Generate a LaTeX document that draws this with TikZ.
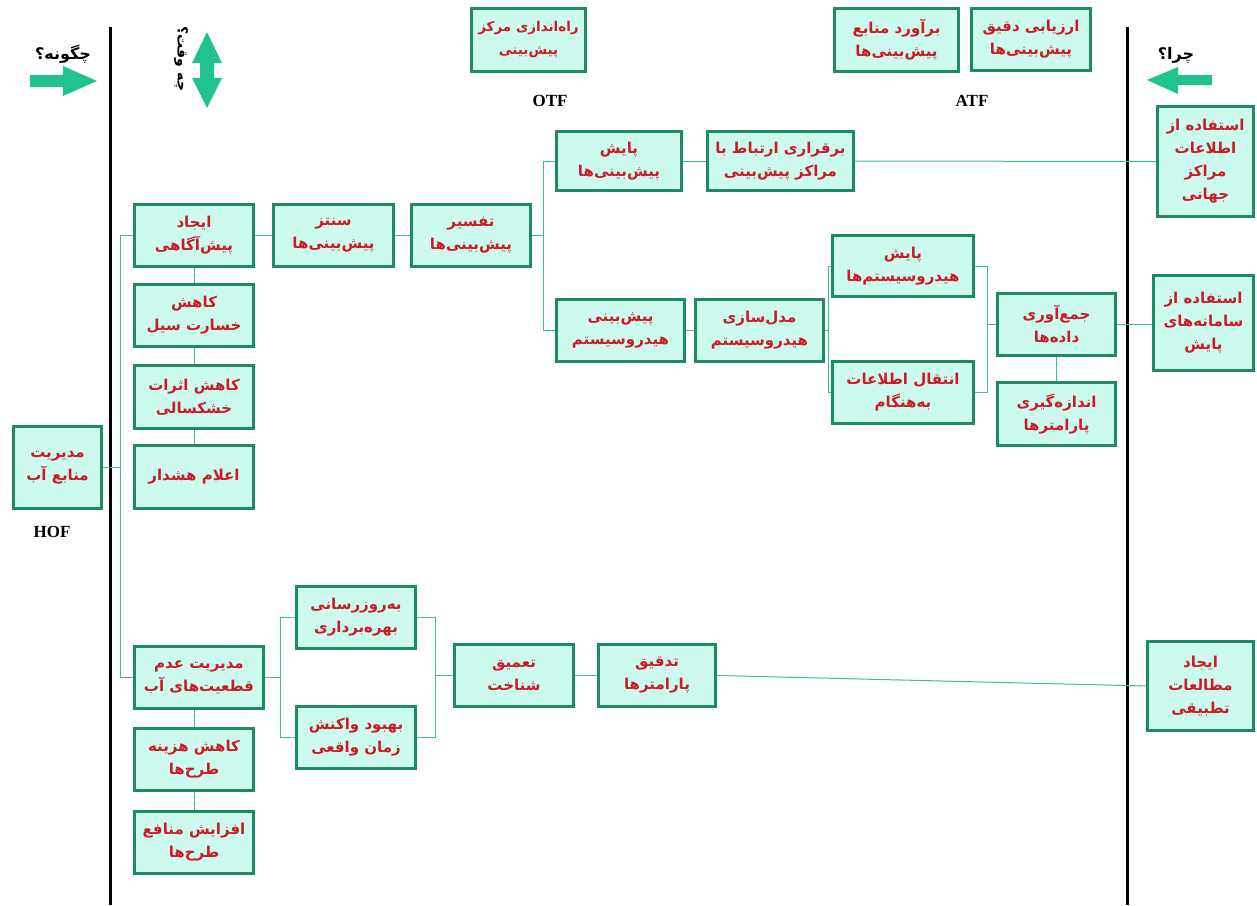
\documentclass[tikz,border=0pt]{standalone}
\usepackage{fontspec}
\TeXXeTstate=1
\setmainfont{Liberation Serif}
\newfontfamily\arabicfont[Script=Arabic]{DejaVu Sans}
\usetikzlibrary{calc}
\definecolor{bfill}{HTML}{CCFAEE}
\definecolor{bdraw}{HTML}{1E8A68}
\definecolor{tred}{HTML}{CC1A28}
\definecolor{lnk}{HTML}{3DBE98}
\definecolor{arr}{HTML}{22C290}
\newcommand{\fa}[1]{\beginR #1\endR}
\newcommand{\bx}[6]{\node[box, minimum width={#4pt-#2pt-2.6pt}, minimum height={#5pt-#3pt-2.6pt}] (#1) at ({(#2+#4)/2},{(#3+#5)/2}) {#6};}
\begin{document}
\begin{tikzpicture}[x=1pt,y=-1pt,
  box/.style={draw=bdraw, fill=bfill, line width=2.6pt, align=center, text=tred, inner sep=0.5pt,
    font=\arabicfont\bfseries\fontsize{15}{23}\selectfont},
  small/.style={font=\arabicfont\bfseries\fontsize{13.5}{23}\selectfont},
  conn/.style={draw=lnk, line width=1pt},
  lat/.style={font=\bfseries\fontsize{17}{20}\selectfont},
  qlab/.style={font=\arabicfont\bfseries\fontsize{16}{18}\selectfont}]
\useasboundingbox (0,0) rectangle (1257,905);
\fill[white] (0,0) rectangle (1257,905);
% black boundaries
\draw[line width=3pt] (110,27) -- (110,905);
\draw[line width=3pt] (1127,27) -- (1127,905);
% arrows
\fill[arr] (30,75) -- (63,75) -- (63,66) -- (97,81) -- (63,96) -- (63,87) -- (30,87) -- cycle;
\fill[arr] (207,32) -- (222,63) -- (214,63) -- (214,78) -- (222,78) -- (207,108) -- (192,78) -- (200,78) -- (200,63) -- (192,63) -- cycle;
\fill[arr] (1147,80) -- (1178,67) -- (1178,75) -- (1212,75) -- (1212,85) -- (1178,85) -- (1178,94) -- cycle;
% question labels
\node[qlab] (how) at (63,54) {\fa{چگونه؟}};
\node[qlab, font=\arabicfont\bfseries\fontsize{14}{16}\selectfont, rotate=-90] (when) at (181,59) {\fa{چه وقت؟}};
\node[qlab] (why) at (1176,55) {\fa{چرا؟}};
% latin labels
\node[lat] (otf) at (550,101) {OTF};
\node[lat] (atf) at (972,101) {ATF};
\node[lat] (hof) at (52,532) {HOF};
% boxes
\node[box, small, minimum width=114.4pt, minimum height=63.4pt] (rahandazi) at (528.5,40) {\fa{راه‌اندازی مرکز}\\\fa{پیش‌بینی}};
\bx{baravord}{833}{7}{960}{73}{\fa{برآورد منابع}\\\fa{پیش‌بینی‌ها}}
\bx{arzyabi}{970}{7}{1092}{72}{\fa{ارزیابی دقیق}\\\fa{پیش‌بینی‌ها}}
\bx{jahani}{1156}{105}{1255}{218}{\fa{استفاده از}\\\fa{اطلاعات}\\\fa{مراکز}\\\fa{جهانی}}
\bx{barqarari}{706}{130}{855}{192}{\fa{برقراری ارتباط با}\\\fa{مراکز پیش‌بینی}}
\bx{payesh}{555}{130}{683}{192}{\fa{پایش}\\\fa{پیش‌بینی‌ها}}
\bx{ijad}{133}{203}{255}{268}{\fa{ایجاد}\\\fa{پیش‌آگاهی}}
\bx{sentez}{272}{203}{395}{268}{\fa{سنتز}\\\fa{پیش‌بینی‌ها}}
\bx{tafsir}{410}{203}{532}{268}{\fa{تفسیر}\\\fa{پیش‌بینی‌ها}}
\bx{khesarat}{133}{283}{255}{348}{\fa{کاهش}\\\fa{خسارت سیل}}
\bx{khoshk}{133}{364}{255}{430}{\fa{کاهش اثرات}\\\fa{خشکسالی}}
\bx{hoshdar}{133}{444}{255}{510}{\fa{اعلام هشدار}}
\bx{modir}{12}{425}{103}{510}{\fa{مدیریت}\\\fa{منابع آب}}
\bx{pishhyd}{555}{298}{686}{363}{\fa{پیش‌بینی}\\\fa{هیدروسیستم}}
\bx{model}{694}{298}{825}{363}{\fa{مدل‌سازی}\\\fa{هیدروسیستم}}
\bx{payeshh}{831}{234}{975}{298}{\fa{پایش}\\\fa{هیدروسیستم‌ها}}
\bx{enteqal}{831}{360}{975}{425}{\fa{انتقال اطلاعات}\\\fa{به‌هنگام}}
\bx{jam}{996}{292}{1117}{357}{\fa{جمع‌آوری}\\\fa{داده‌ها}}
\bx{andaze}{996}{381}{1117}{447}{\fa{اندازه‌گیری}\\\fa{پارامترها}}
\bx{samane}{1152}{274}{1255}{372}{\fa{استفاده از}\\\fa{سامانه‌های}\\\fa{پایش}}
\bx{adam}{133}{645}{265}{710}{\fa{مدیریت عدم}\\\fa{قطعیت‌های آب}}
\bx{beruz}{295}{585}{417}{650}{\fa{به‌روزرسانی}\\\fa{بهره‌برداری}}
\bx{behbud}{295}{705}{417}{770}{\fa{بهبود واکنش}\\\fa{زمان واقعی}}
\bx{taamiq}{453}{643}{575}{708}{\fa{تعمیق}\\\fa{شناخت}}
\bx{tadqiq}{597}{643}{717}{708}{\fa{تدقیق}\\\fa{پارامترها}}
\bx{tatbiqi}{1146}{640}{1255}{732}{\fa{ایجاد}\\\fa{مطالعات}\\\fa{تطبیقی}}
\bx{hazine}{133}{727}{255}{792}{\fa{کاهش هزینه}\\\fa{طرح‌ها}}
\bx{manafe}{133}{810}{255}{875}{\fa{افزایش منافع}\\\fa{طرح‌ها}}
% bracket coordinates
\coordinate (trunk) at (120,0);
\coordinate (b1) at (543,0);
\coordinate (b2) at (828,0);
\coordinate (b3) at (987,0);
\coordinate (b4) at (280,0);
\coordinate (b5) at (435,0);
% connectors
\draw[conn] (ijad.west) -- (ijad.west -| trunk) |- (adam.west);
\draw[conn] (modir.east) -- (modir.east -| trunk);
\draw[conn] (ijad.east) -- (sentez.west);
\draw[conn] (sentez.east) -- (tafsir.west);
\draw[conn] (ijad.south) -- (khesarat.north);
\draw[conn] (khesarat.south) -- (khoshk.north);
\draw[conn] (khoshk.south) -- (hoshdar.north);
\draw[conn] (payesh.west) -- (payesh.west -| b1) |- (pishhyd.west);
\draw[conn] (tafsir.east) -- (tafsir.east -| b1);
\draw[conn] (payesh.east) -- (barqarari.west);
\draw[conn] (barqarari.east) -- (jahani.west);
\draw[conn] (pishhyd.east) -- (model.west);
\draw[conn] (payeshh.west) -- (payeshh.west -| b2) |- (enteqal.west);
\draw[conn] (model.east) -- (model.east -| b2);
\draw[conn] (payeshh.east) -- (payeshh.east -| b3) |- (enteqal.east);
\draw[conn] (jam.west) -- (jam.west -| b3);
\draw[conn] (jam.south) -- (andaze.north);
\draw[conn] (jam.east) -- (jam.east -| samane.west);
\draw[conn] (beruz.west) -- (beruz.west -| b4) |- (behbud.west);
\draw[conn] (adam.east) -- (adam.east -| b4);
\draw[conn] (beruz.east) -- (beruz.east -| b5) |- (behbud.east);
\draw[conn] (taamiq.west) -- (taamiq.west -| b5);
\draw[conn] (taamiq.east) -- (tadqiq.west);
\draw[conn] (tadqiq.east) -- (tatbiqi.west);
\draw[conn] (hazine.north |- adam.south) -- (hazine.north);
\draw[conn] (hazine.south) -- (manafe.north);
\end{tikzpicture}
\end{document}
